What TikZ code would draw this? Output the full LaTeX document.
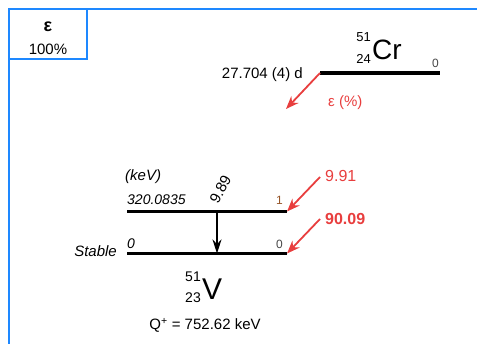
\documentclass[tikz,border=0pt]{standalone}
\usepackage{fontspec}
\setmainfont{Liberation Sans}
\usetikzlibrary{arrows.meta,positioning}

\definecolor{frameBlue}{RGB}{30,136,255}
\definecolor{decayRed}{RGB}{232,62,62}
\definecolor{spinBrown}{RGB}{150,85,40}
\definecolor{spinGray}{RGB}{70,70,70}

\begin{document}
\begin{tikzpicture}[
    x=1pt, y=-1pt,
    font=\fontsize{15pt}{18pt}\selectfont,
    >=Stealth,
    frameLine/.style={
        draw=frameBlue,
        line width=2.4pt
    },
    modeBox/.style={
        rectangle,
        draw=frameBlue,
        line width=2.4pt,
        inner sep=0pt,
        minimum width=78pt,
        minimum height=50pt
    },
    levelLine/.style={
        draw=black,
        line width=2.6pt
    },
    levelEnd/.style={
        draw=black,
        line width=3.4pt
    },
    feedArrow/.style={
        draw=decayRed,
        line width=1.8pt,
        -{Stealth[length=13pt,width=10pt]}
    },
    gammaArrow/.style={
        draw=black,
        line width=1.7pt,
        -{Stealth[length=14pt,width=9pt]}
    },
    levelText/.style={
        inner sep=0pt,
        font=\fontsize{14pt}{16pt}\selectfont\itshape
    },
    spinText/.style={
        inner sep=0pt,
        font=\fontsize{12pt}{14pt}\selectfont
    },
    redText/.style={
        inner sep=0pt,
        text=decayRed,
        font=\fontsize{16pt}{18pt}\selectfont
    }
]
\useasboundingbox (0,0) rectangle (477,344);

% ==================== FRAME ====================
\draw[frameLine] (9,344) -- (9,9) -- (477,9);
\node[modeBox] (modeBox) at (48,34) {};
\node[inner sep=0pt, anchor=base, font=\fontsize{18pt}{20pt}\selectfont\bfseries] (modeName) at (48,32) {ε};
\node[inner sep=0pt, anchor=base] (modePct) at (48,55) {100\%};

% ==================== PARENT: Cr-51 ====================
\coordinate (crL) at (320,73);
\coordinate (crR) at (440,73);
\draw[line width=3.6pt] (crL) -- (crR);
\node[spinText, anchor=base east, text=spinGray] (crSpin) at (439,68) {0};
\node[inner sep=0pt, anchor=base west, font=\fontsize{28pt}{30pt}\selectfont] (crName) at (372,60) {Cr};
\node[inner sep=0pt, anchor=base east, font=\fontsize{13pt}{15pt}\selectfont] (crMass) at (371,42) {51};
\node[inner sep=0pt, anchor=base east, font=\fontsize{13pt}{15pt}\selectfont] (crZ) at (371,64) {24};
\node[inner sep=0pt, anchor=base east] (crHalf) at (303,79) {27.704 (4) d};

% Decay branch
\coordinate (ecEnd) at (286,109);
\draw[feedArrow] (crL) -- (ecEnd);
\node[redText, anchor=base west, font=\fontsize{15pt}{18pt}\selectfont] (ecLabel) at (328,107) {ε (\%)};

% ==================== DAUGHTER: V-51 ====================
\coordinate (lvOneL) at (127,211.5);
\coordinate (lvOneR) at (287,211.5);
\coordinate (lvZeroL) at (127,253.5);
\coordinate (lvZeroR) at (287,253.5);
\draw[levelLine] (lvOneL) -- (lvOneR);
\draw[levelLine] (lvZeroL) -- (lvZeroR);
\draw[levelEnd] (lvOneL) -- ++(69,0);
\draw[levelEnd] (lvOneR) -- ++(-27,0);
\draw[levelEnd] (lvZeroL) -- ++(69,0);
\draw[levelEnd] (lvZeroR) -- ++(-27,0);

\node[levelText, anchor=base west, font=\fontsize{15pt}{17pt}\selectfont\itshape] (unitText) at (125,181) {(keV)};
\node[levelText, anchor=base west] (lvOneE) at (127,205) {320.0835};
\node[levelText, anchor=base west] (lvZeroE) at (127,249) {0};
\node[levelText, anchor=base east, font=\fontsize{15pt}{17pt}\selectfont\itshape] (stableText) at (117,257) {Stable};
\node[spinText, anchor=base east, text=spinBrown] (lvOneSpin) at (283,205) {1};
\node[spinText, anchor=base east, text=spinGray] (lvZeroSpin) at (283,249) {0};

% Gamma transition
\coordinate (gTop) at (217,211.5);
\coordinate (gBot) at (217,253.5);
\draw[gammaArrow] (gTop) -- (gBot);
\node[inner sep=0pt, anchor=base west, rotate=62, font=\fontsize{15pt}{17pt}\selectfont] (gLabel) at (218,205) {9.89};

% Feeding branches
\coordinate (feedOne) at (320,177);
\coordinate (feedZero) at (320,219);
\draw[feedArrow] (feedOne) -- (lvOneR);
\draw[feedArrow] (feedZero) -- (lvZeroR);
\node[redText, anchor=base west] (feedOneText) at (325,182) {9.91};
\node[redText, anchor=base west, font=\fontsize{16pt}{18pt}\selectfont\bfseries] (feedZeroText) at (325,225) {90.09};

% Nuclide name and Q value
\node[inner sep=0pt, anchor=base west, font=\fontsize{30pt}{32pt}\selectfont] (vName) at (202,300) {V};
\node[inner sep=0pt, anchor=base east, font=\fontsize{14pt}{16pt}\selectfont] (vMass) at (201,282) {51};
\node[inner sep=0pt, anchor=base east, font=\fontsize{14pt}{16pt}\selectfont] (vZ) at (201,303) {23};
\node[inner sep=0pt, anchor=base] (qValue) at (205,330) {Q\textsuperscript{+} = 752.62 keV};

\end{tikzpicture}
\end{document}
